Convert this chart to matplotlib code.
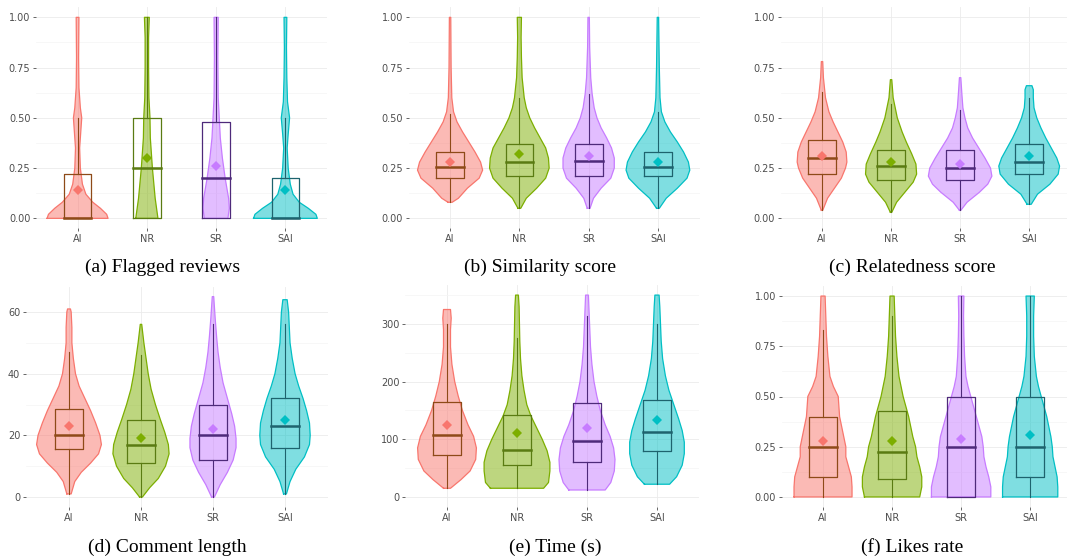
import matplotlib.pyplot as plt
import numpy as np

# groups and colours (ggplot default hue palette)
groups = ['AI', 'NR', 'SR', 'SAI']
fill_colors = ['#F8766D', '#7CAE00', '#C77CFF', '#00BFC4']
box_colors = ['#8E4A18', '#5A7B12', '#4E2A7A', '#1E636E']

# ---- (a) Flagged reviews ----
flag_box = [(0.00, 0.00, 0.00, 0.22, 0.50),     # lo, q1, median, q3, hi
            (0.00, 0.00, 0.25, 0.50, 1.00),
            (0.00, 0.00, 0.20, 0.48, 1.00),
            (0.00, 0.00, 0.00, 0.20, 0.50)]
flag_mean = [0.14, 0.30, 0.26, 0.14]
flag_vy = [[0, 0.02, 0.05, 0.08, 0.12, 0.17, 0.25, 0.35, 0.45, 0.5, 0.55, 0.65, 0.8, 1.0],
           [0, 0.1, 0.25, 0.4, 0.5, 0.6, 0.75, 0.9, 1.0],
           [0, 0.05, 0.1, 0.2, 0.3, 0.4, 0.5, 0.6, 0.8, 1.0],
           [0, 0.02, 0.05, 0.08, 0.12, 0.17, 0.25, 0.35, 0.42, 0.5, 0.58, 0.7, 0.85, 1.0]]
flag_vw = [[0.44, 0.42, 0.33, 0.22, 0.12, 0.07, 0.04, 0.03, 0.05, 0.06, 0.04, 0.02, 0.015, 0.02],
           [0.16, 0.12, 0.08, 0.05, 0.045, 0.03, 0.025, 0.025, 0.035],
           [0.17, 0.19, 0.18, 0.13, 0.09, 0.06, 0.045, 0.03, 0.025, 0.03],
           [0.46, 0.44, 0.33, 0.2, 0.11, 0.07, 0.04, 0.025, 0.04, 0.06, 0.03, 0.02, 0.015, 0.02]]

# ---- (b) Similarity score ----
sim_box = [(0.08, 0.20, 0.255, 0.33, 0.52),
           (0.05, 0.21, 0.28, 0.37, 0.60),
           (0.05, 0.21, 0.285, 0.37, 0.62),
           (0.05, 0.21, 0.255, 0.33, 0.53)]
sim_mean = [0.28, 0.32, 0.31, 0.28]
sim_vy = [[0.08, 0.1, 0.15, 0.2, 0.24, 0.28, 0.33, 0.38, 0.43, 0.48, 0.53, 0.6, 0.75, 1.0],
          [0.05, 0.1, 0.15, 0.2, 0.25, 0.3, 0.35, 0.4, 0.45, 0.5, 0.55, 0.6, 0.7, 0.8, 0.9, 1.0],
          [0.05, 0.1, 0.15, 0.2, 0.25, 0.3, 0.35, 0.4, 0.45, 0.5, 0.55, 0.62, 0.7, 0.85, 1.0],
          [0.05, 0.1, 0.15, 0.2, 0.24, 0.28, 0.33, 0.38, 0.43, 0.48, 0.53, 0.6, 0.75, 1.0]]
sim_vw = [[0.03, 0.12, 0.25, 0.42, 0.47, 0.44, 0.36, 0.27, 0.18, 0.1, 0.05, 0.025, 0.015, 0.01],
          [0.02, 0.1, 0.25, 0.38, 0.43, 0.42, 0.38, 0.3, 0.22, 0.15, 0.1, 0.07, 0.04, 0.03, 0.025, 0.03],
          [0.02, 0.07, 0.18, 0.32, 0.37, 0.37, 0.33, 0.26, 0.18, 0.12, 0.08, 0.05, 0.03, 0.015, 0.01],
          [0.02, 0.12, 0.28, 0.42, 0.46, 0.44, 0.37, 0.28, 0.18, 0.1, 0.05, 0.03, 0.02, 0.01]]

# ---- (c) Relatedness score ----
rel_box = [(0.04, 0.22, 0.30, 0.39, 0.63),
           (0.03, 0.19, 0.26, 0.34, 0.57),
           (0.04, 0.19, 0.25, 0.34, 0.54),
           (0.07, 0.22, 0.28, 0.37, 0.60)]
rel_mean = [0.31, 0.28, 0.27, 0.31]
rel_vy = [[0.04, 0.1, 0.15, 0.2, 0.25, 0.28, 0.33, 0.38, 0.43, 0.48, 0.53, 0.6, 0.7, 0.78],
          [0.03, 0.08, 0.13, 0.18, 0.22, 0.27, 0.32, 0.38, 0.43, 0.5, 0.55, 0.6, 0.69],
          [0.04, 0.08, 0.13, 0.17, 0.21, 0.25, 0.3, 0.35, 0.4, 0.45, 0.5, 0.55, 0.62, 0.7],
          [0.07, 0.12, 0.17, 0.22, 0.26, 0.3, 0.35, 0.4, 0.45, 0.5, 0.55, 0.6, 0.64, 0.66]]
rel_vw = [[0.01, 0.08, 0.18, 0.28, 0.34, 0.36, 0.35, 0.3, 0.23, 0.16, 0.1, 0.05, 0.02, 0.01],
          [0.01, 0.08, 0.2, 0.32, 0.37, 0.36, 0.3, 0.22, 0.16, 0.09, 0.06, 0.03, 0.01],
          [0.01, 0.1, 0.28, 0.4, 0.46, 0.44, 0.36, 0.27, 0.18, 0.11, 0.07, 0.04, 0.025, 0.01],
          [0.03, 0.12, 0.3, 0.42, 0.44, 0.4, 0.32, 0.24, 0.17, 0.11, 0.07, 0.06, 0.06, 0.04]]

# ---- (d) Comment length ----
len_box = [(1, 15.5, 20, 28.5, 47),
           (0, 11, 17, 25, 46),
           (0, 12, 20, 30, 56),
           (1, 16, 23, 32, 56)]
len_mean = [23, 19, 22, 25]
len_vy = [[1, 5, 8, 11, 14, 17, 20, 24, 28, 32, 36, 40, 45, 50, 55, 60, 61],
          [0, 3, 6, 10, 14, 17, 21, 25, 30, 35, 40, 45, 50, 56],
          [0, 4, 8, 12, 16, 19, 23, 27, 32, 37, 42, 47, 52, 58, 65],
          [1, 5, 9, 13, 17, 20, 24, 28, 32, 36, 40, 45, 50, 55, 60, 64]]
len_vw = [[0.03, 0.08, 0.17, 0.3, 0.41, 0.45, 0.43, 0.37, 0.3, 0.22, 0.14, 0.09, 0.06, 0.04, 0.04, 0.03, 0.02],
          [0.02, 0.12, 0.24, 0.34, 0.39, 0.38, 0.33, 0.27, 0.2, 0.14, 0.1, 0.07, 0.04, 0.01],
          [0.02, 0.1, 0.2, 0.28, 0.32, 0.32, 0.3, 0.26, 0.2, 0.14, 0.1, 0.07, 0.05, 0.03, 0.01],
          [0.02, 0.07, 0.15, 0.27, 0.34, 0.35, 0.34, 0.3, 0.25, 0.19, 0.14, 0.1, 0.07, 0.06, 0.05, 0.03]]

# ---- (e) Time (s) ----
time_box = [(15, 72, 108, 165, 300),
            (15, 55, 82, 142, 275),
            (12, 60, 97, 163, 313),
            (22, 80, 113, 168, 300)]
time_mean = [125, 110, 120, 133]
time_vy = [[15, 30, 45, 65, 85, 105, 125, 150, 175, 200, 230, 260, 290, 310, 325],
           [15, 25, 45, 60, 80, 100, 120, 140, 160, 185, 210, 240, 270, 300, 330, 350],
           [12, 25, 45, 65, 85, 105, 125, 150, 175, 200, 230, 260, 290, 320, 350],
           [22, 35, 55, 75, 95, 115, 135, 160, 185, 210, 240, 270, 300, 330, 350]]
time_vw = [[0.05, 0.2, 0.33, 0.41, 0.42, 0.38, 0.3, 0.22, 0.16, 0.11, 0.07, 0.05, 0.05, 0.06, 0.05],
           [0.38, 0.45, 0.47, 0.47, 0.43, 0.36, 0.28, 0.2, 0.14, 0.1, 0.07, 0.05, 0.04, 0.035, 0.03, 0.02],
           [0.26, 0.34, 0.39, 0.4, 0.38, 0.33, 0.26, 0.19, 0.14, 0.1, 0.07, 0.05, 0.04, 0.03, 0.02],
           [0.18, 0.28, 0.36, 0.39, 0.39, 0.36, 0.31, 0.24, 0.17, 0.12, 0.08, 0.06, 0.05, 0.04, 0.03]]

# ---- (f) Likes rate ----
like_box = [(0.0, 0.10, 0.25, 0.40, 0.83),
            (0.0, 0.09, 0.225, 0.43, 0.90),
            (0.0, 0.00, 0.25, 0.50, 1.00),
            (0.0, 0.10, 0.25, 0.50, 1.00)]
like_mean = [0.28, 0.28, 0.29, 0.31]
like_vy = [[0, 0.05, 0.1, 0.15, 0.2, 0.25, 0.3, 0.35, 0.4, 0.45, 0.5, 0.55, 0.6, 0.7, 0.8, 0.9, 1.0],
           [0, 0.05, 0.1, 0.15, 0.2, 0.25, 0.3, 0.35, 0.4, 0.45, 0.5, 0.6, 0.7, 0.8, 0.9, 1.0],
           [0, 0.05, 0.1, 0.15, 0.2, 0.25, 0.3, 0.35, 0.4, 0.45, 0.5, 0.55, 0.6, 0.7, 0.8, 0.9, 1.0],
           [0, 0.05, 0.1, 0.15, 0.2, 0.25, 0.3, 0.35, 0.4, 0.45, 0.5, 0.55, 0.6, 0.7, 0.8, 0.9, 1.0]]
like_vw = [[0.42, 0.42, 0.41, 0.37, 0.33, 0.33, 0.3, 0.27, 0.24, 0.23, 0.22, 0.15, 0.1, 0.07, 0.05, 0.04, 0.03],
           [0.4, 0.43, 0.43, 0.4, 0.36, 0.34, 0.3, 0.27, 0.24, 0.2, 0.16, 0.1, 0.07, 0.05, 0.04, 0.03],
           [0.43, 0.43, 0.4, 0.36, 0.33, 0.32, 0.3, 0.26, 0.22, 0.18, 0.14, 0.1, 0.07, 0.05, 0.04, 0.035, 0.04],
           [0.4, 0.4, 0.39, 0.36, 0.33, 0.32, 0.3, 0.27, 0.24, 0.2, 0.16, 0.12, 0.09, 0.06, 0.05, 0.05, 0.06]]

panels = [
    # box, mean, violin y, violin w, ylim, yticks, ticklabels, caption, axes rect px (left, right, top, bottom), caption x
    (flag_box, flag_mean, flag_vy, flag_vw, (-0.05, 1.05), [0, 0.25, 0.5, 0.75, 1.0],
     ['0.00', '0.25', '0.50', '0.75', '1.00'], '(a) Flagged reviews', (36, 327, 7.3, 228.4), 163),
    (sim_box, sim_mean, sim_vy, sim_vw, (-0.05, 1.05), [0, 0.25, 0.5, 0.75, 1.0],
     ['0.00', '0.25', '0.50', '0.75', '1.00'], '(b) Similarity score', (408.5, 699.5, 7.3, 228.4), 540),
    (rel_box, rel_mean, rel_vy, rel_vw, (-0.05, 1.05), [0, 0.25, 0.5, 0.75, 1.0],
     ['0.00', '0.25', '0.50', '0.75', '1.00'], '(c) Relatedness score', (780.6, 1070.6, 7.3, 228.4), 912),
    (len_box, len_mean, len_vy, len_vw, (-3.25, 68.25), [0, 20, 40, 60],
     ['0', '20', '40', '60'], '(d) Comment length', (25.8, 328.2, 286.6, 507), 167),
    (time_box, time_mean, time_vy, time_vw, (-17.5, 367.5), [0, 100, 200, 300],
     ['0', '100', '200', '300'], '(e) Time (s)', (405, 699, 285, 507), 555),
    (like_box, like_mean, like_vy, like_vw, (-0.05, 1.05), [0, 0.25, 0.5, 0.75, 1.0],
     ['0.00', '0.25', '0.50', '0.75', '1.00'], '(f) Likes rate', (781.6, 1071.6, 286, 507), 912),
]

W, H = 1067, 558
fig = plt.figure(figsize=(W / 100, H / 100), dpi=100)

for box, mean, vy, vw, ylim, yticks, ylabels, caption, rect, cap_x in panels:
    left, right, top, bottom = rect
    ax = fig.add_axes([left / W, 1 - bottom / H, (right - left) / W, (bottom - top) / H])

    # grid like theme_minimal
    step = yticks[1] - yticks[0]
    minor = [t + step / 2 for t in [yticks[0] - step] + yticks]
    ax.set_yticks(minor, minor=True)
    ax.grid(True, which='major', color='#ebebeb', linewidth=0.6, zorder=0)
    ax.grid(True, which='minor', axis='y', color='#f4f4f4', linewidth=0.5, zorder=0)
    ax.set_axisbelow(True)

    for i in range(len(groups)):
        x = i + 1
        y = np.array(vy[i])
        w = np.array(vw[i])
        # violin
        ax.fill_betweenx(y, x - w, x + w, facecolor=fill_colors[i], alpha=0.5,
                         edgecolor='none', zorder=2)
        outline_x = np.concatenate([x - w, (x + w)[::-1], [x - w[0]]])
        outline_y = np.concatenate([y, y[::-1], [y[0]]])
        ax.plot(outline_x, outline_y, color=fill_colors[i], linewidth=0.9, zorder=3)

        # box plot
        lo, q1, med, q3, hi = box[i]
        bw = 0.2
        c = box_colors[i]
        ax.plot([x, x], [lo, q1], color=c, linewidth=0.8, zorder=4)
        ax.plot([x, x], [q3, hi], color=c, linewidth=0.8, zorder=4)
        ax.plot([x - bw, x + bw, x + bw, x - bw, x - bw], [q1, q1, q3, q3, q1],
                color=c, linewidth=0.9, zorder=4)
        ax.plot([x - bw, x + bw], [med, med], color=c, linewidth=1.8, zorder=4)

        # mean diamond
        ax.plot([x], [mean[i]], marker='D', markersize=5.5, color=fill_colors[i],
                markeredgewidth=0, zorder=5)

    ax.set_xticks(range(1, len(groups) + 1))
    ax.set_xticklabels(groups)
    ax.set_yticks(yticks)
    ax.set_yticklabels(ylabels)
    ax.set_xlim(0.4, 4.6)
    ax.set_ylim(*ylim)
    ax.tick_params(axis='both', which='major', labelsize=7, labelcolor='#4d4d4d',
                   color='#4d4d4d', length=2.5, width=0.6, pad=1.5)
    ax.tick_params(axis='y', which='minor', length=0)
    for s in ax.spines.values():
        s.set_visible(False)

    cap_y = 267 if top < 100 else 547
    fig.text(cap_x / W, 1 - cap_y / H, caption, ha='center', va='center',
             fontsize=14, family='Liberation Serif', color='black')

fig.savefig('out.png', dpi=100)
